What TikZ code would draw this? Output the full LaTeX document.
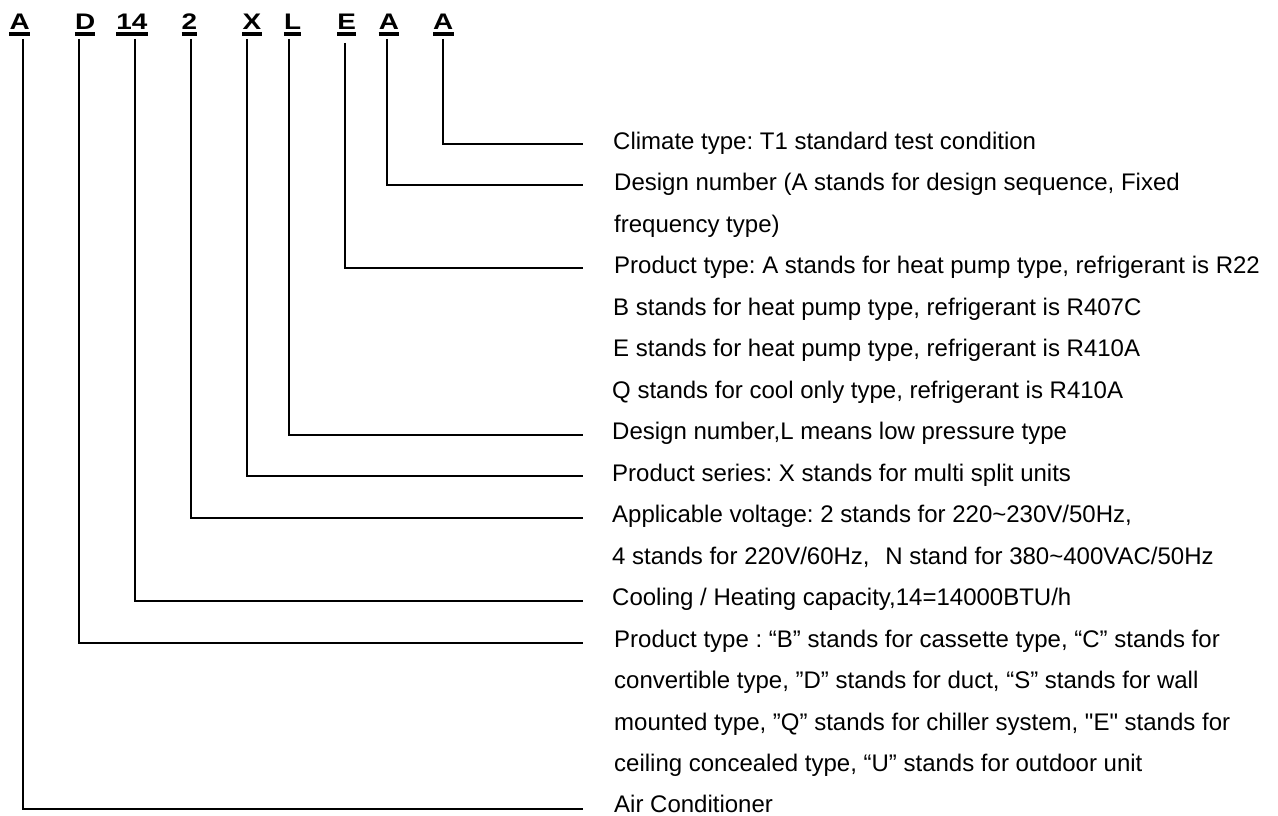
\documentclass[tikz,border=0pt]{standalone}
\usepackage{fontspec}
\setmainfont{Liberation Sans}[Ligatures=TeXOff]
\usetikzlibrary{calc}
\begin{document}
\frenchspacing
\begin{tikzpicture}[x=1pt,y=-1pt,
  hdr/.style={inner sep=0pt, anchor=base, font=\fontsize{22.5}{26}\selectfont\bfseries},
  desc/.style={inner sep=0pt, anchor=base west, font=\fontsize{24}{28}\selectfont},
  conn/.style={line width=2pt, line join=miter},
  uline/.style={line width=4pt}]
\useasboundingbox (0,0) rectangle (1278,816);
% header code letters
\node[hdr] (h1) at (19.7,29.3) {\scalebox{1.24}[1]{A}};
\node[hdr] (h2) at (85.2,29.3) {\scalebox{1.24}[1]{D}};
\node[hdr] (h3) at (132,29.3) {\scalebox{1.24}[1]{14}};
\node[hdr] (h4) at (189.5,29.3) {\scalebox{1.24}[1]{2}};
\node[hdr] (h5) at (252,29.3) {\scalebox{1.24}[1]{X}};
\node[hdr] (h6) at (292.7,29.3) {\scalebox{1.24}[1]{L}};
\node[hdr] (h7) at (346.8,29.3) {\scalebox{1.24}[1]{E}};
\node[hdr] (h8) at (389,29.3) {\scalebox{1.24}[1]{A}};
\node[hdr] (h9) at (443.3,29.3) {\scalebox{1.24}[1]{A}};
\foreach \h in {h1,h2,h3,h4,h5,h6,h7,h8,h9}
  \draw[uline] ($(\h.base west)+(0,4.4)$) -- ($(\h.base east)+(0,4.4)$);
% descriptions
\node[desc] (d0) at (613,149) {Climate type: T1 standard test condition};
\node[desc] (d1) at (614,190.5) {Design number (A stands for design sequence, Fixed};
\node[desc] (d2) at (614,232) {frequency type)};
\node[desc] (d3) at (614,273.5) {Product type: A stands for heat pump type, refrigerant is R22};
\node[desc] (d4) at (613,315) {B stands for heat pump type, refrigerant is R407C};
\node[desc] (d5) at (613,356.5) {E stands for heat pump type, refrigerant is R410A};
\node[desc] (d6) at (612,398) {Q stands for cool only type, refrigerant is R410A};
\node[desc] (d7) at (612,439.5) {Design number,L means low pressure type};
\node[desc] (d8) at (612,481) {Product series: X stands for multi split units};
\node[desc] (d9) at (612,522.5) {Applicable voltage: 2 stands for 220\textasciitilde230V/50Hz,};
\node[desc] (d10) at (612,564) {4 stands for 220V/60Hz,\hspace{0.65em}N stand for 380\textasciitilde400VAC/50Hz};
\node[desc] (d11) at (612,605.5) {Cooling / Heating capacity,14=14000BTU/h};
\node[desc] (d12) at (614,647) {Product type : “B” stands for cassette type, “C” stands for};
\node[desc] (d13) at (614,688.5) {convertible type, ”D” stands for duct, “S” stands for wall};
\node[desc] (d14) at (614,730) {mounted type, ”Q” stands for chiller system, "E" stands for};
\node[desc] (d15) at (614,771.5) {ceiling concealed type, “U” stands for outdoor unit};
\node[desc] (d16) at (614,812.5) {Air Conditioner};
% connector start and end points
\coordinate (s9) at (443,39); \coordinate (e9) at (583,144);
\coordinate (s8) at (387,39); \coordinate (e8) at (583,185);
\coordinate (s7) at (345,43); \coordinate (e7) at (583,268);
\coordinate (s6) at (289,39); \coordinate (e6) at (583,435);
\coordinate (s5) at (247,39); \coordinate (e5) at (583,476);
\coordinate (s4) at (191,39); \coordinate (e4) at (583,518);
\coordinate (s3) at (135,39); \coordinate (e3) at (583,601);
\coordinate (s2) at (79,39);  \coordinate (e2) at (583,643);
\coordinate (s1) at (23,39);  \coordinate (e1) at (583,809);
\foreach \i in {1,...,9}
  \draw[conn] (s\i) |- (e\i);
\end{tikzpicture}
\end{document}
